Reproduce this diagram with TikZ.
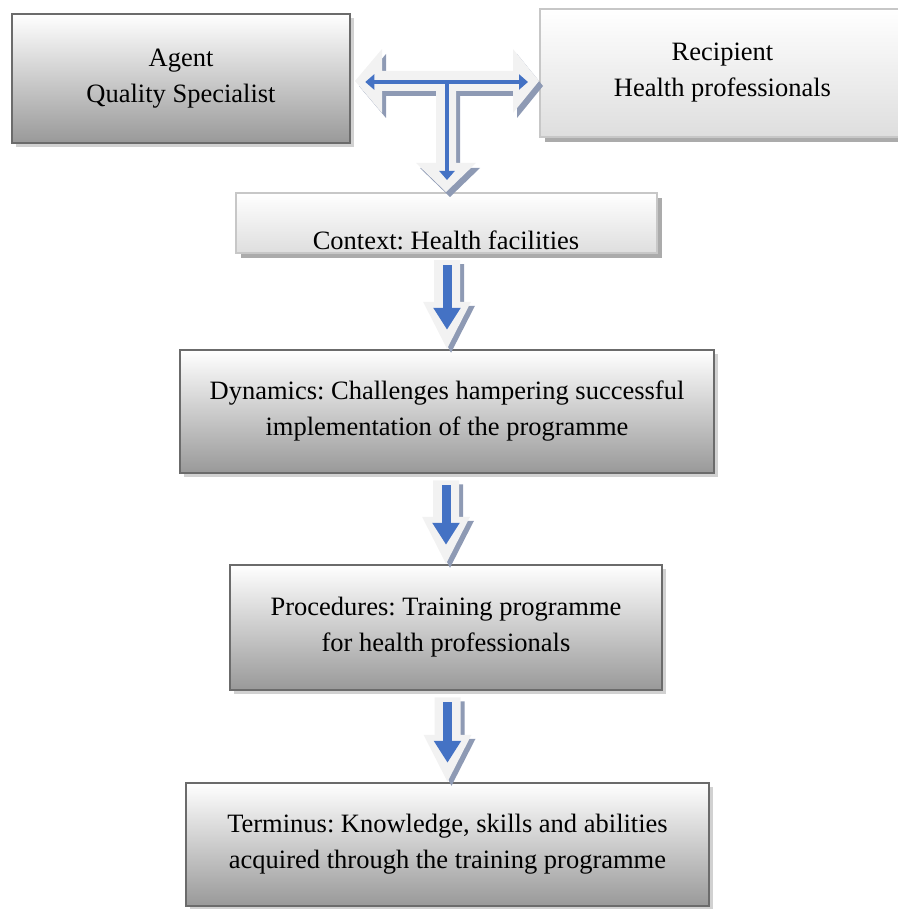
\documentclass[tikz,border=0pt]{standalone}
\usepackage{fontspec}
\setmainfont{Liberation Serif}
\usetikzlibrary{shadows,arrows.meta,calc}
\definecolor{arrowblue}{HTML}{4472C4}
\definecolor{arrowfill}{HTML}{F2F2F2}
\definecolor{arrowshadow}{HTML}{8E9AB4}
\frenchspacing
\newcommand\Tshape{(355,81) -- (382,49) -- (382,71) -- (513,71) -- (513,49) -- (539,81) -- (513,113) -- (513,91) -- (456,91) -- (456,163) -- (476,163) -- (446,192) -- (416,163) -- (436,163) -- (436,91) -- (382,91) -- (382,113) -- cycle}
\newcommand\downblock[2]{%
  \fill[arrowshadow] let \p1=(#1.south), \p2=(#2.north) in
    (\x2-9pt,\y1-10pt) -- (\x2+17pt,\y1-10pt) -- (\x2+17pt,\y2+43pt) -- (\x2+28pt,\y2+43pt)
    -- (\x2+4pt,\y2-4pt) -- (\x2-20pt,\y2+43pt) -- (\x2-9pt,\y2+43pt) -- cycle;
  \fill[arrowfill] let \p1=(#1.south), \p2=(#2.north) in
    (\x2-13pt,\y1-6pt) -- (\x2+13pt,\y1-6pt) -- (\x2+13pt,\y2+47pt) -- (\x2+24pt,\y2+47pt)
    -- (\x2,\y2) -- (\x2-24pt,\y2+47pt) -- (\x2-13pt,\y2+47pt) -- cycle;
  \draw[bluethick] let \p1=(#1.south), \p2=(#2.north) in
    (\x2,\y1-11pt) -- (\x2,\y2+19pt);
}
\begin{document}
\begin{tikzpicture}[x=1pt,y=-1pt,
  boxfont/.style={font=\fontsize{26.5}{36}\selectfont},
  darkbox/.style={rectangle, draw=black!58, line width=2.5pt, top color=white,
    bottom color=black!40, boxfont, align=center, inner sep=0pt,
    drop shadow={shadow xshift=4pt,shadow yshift=-4pt,fill=black!18,opacity=1}},
  lightbox/.style={rectangle, draw=black!22, line width=2pt, top color=white,
    bottom color=black!13, boxfont, align=center, inner sep=0pt,
    drop shadow={shadow xshift=5pt,shadow yshift=-5pt,fill=black!33,opacity=1}},
  bluearrow/.style={draw=arrowblue, line width=4pt},
  bluethick/.style={draw=arrowblue, line width=9pt, -{Triangle[length=22pt,width=26pt]}},
  >={Triangle[length=9pt,width=15pt]}]
\useasboundingbox (0,0) rectangle (897,909);

\node[darkbox, minimum width=338pt, minimum height=129pt] (agent) at (181,78.5) {Agent\\Quality Specialist};
\node[lightbox, minimum width=365pt, minimum height=128pt] (rec) at (722.5,73) {Recipient\\Health professionals};
\node[lightbox, minimum width=421pt, minimum height=60pt] (ctx) at (446.5,223) {};
\begin{scope}
  \clip ([xshift=1pt,yshift=-1pt]ctx.north west) rectangle ([xshift=-1pt,yshift=2pt]ctx.south east);
  \node[anchor=base, boxfont, inner sep=0pt] (ctxtext) at (446,249) {Context: Health facilities};
\end{scope}
\node[darkbox, minimum width=534pt, minimum height=123pt] (dyn) at (447,411.5) {Dynamics: Challenges hampering successful\\implementation of the programme};
\node[darkbox, minimum width=432pt, minimum height=125pt] (proc) at (446,627.5) {Procedures: Training programme\\for health professionals};
\node[darkbox, minimum width=523pt, minimum height=123pt] (term) at (447.5,844.5) {Terminus: Knowledge, skills and abilities\\acquired through the training programme};

% T-shaped block arrow
\fill[arrowshadow, shift={(4,5)}] \Tshape;
\fill[arrowfill] \Tshape;
\coordinate (tl) at ($(agent.east)+(14,3.5)$);
\coordinate (tr) at ($(rec.west)+(-11,9)$);
\coordinate (tm) at ($(ctx.north)+(0.5,-110)$);
\coordinate (td) at ($(ctx.north)+(0.5,-12)$);
\draw[bluearrow, <->] (tl) -- (tr);
\draw[bluearrow, ->] (tm) -- (td);

\downblock{ctx}{dyn}
\downblock{dyn}{proc}
\downblock{proc}{term}
\end{tikzpicture}
\end{document}
